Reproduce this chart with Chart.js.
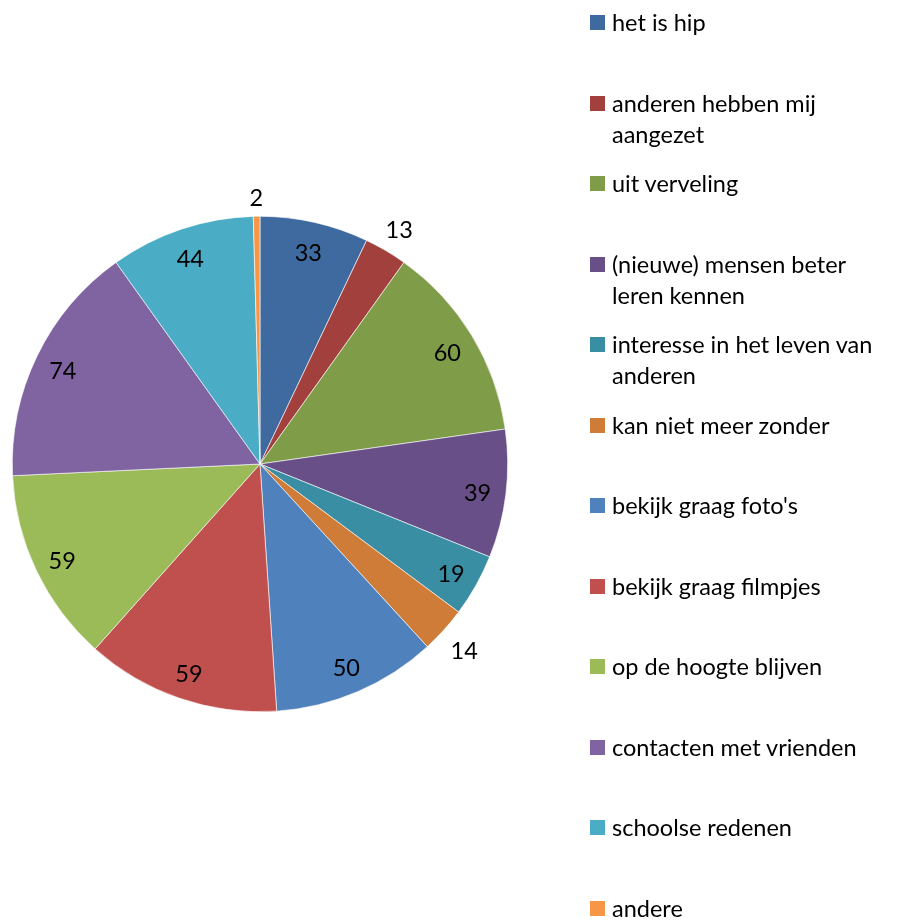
<!DOCTYPE html>
<html>
<head>
<meta charset="utf-8">
<script src="https://cdn.jsdelivr.net/npm/chart.js@4/dist/chart.umd.min.js"></script>
<style>
  html, body { margin: 0; padding: 0; background: #fff; }
  #wrap { position: relative; width: 906px; height: 922px; }
  #grafiek { position: absolute; left: 0; top: 0; }
  .leg { position: absolute; left: 590px; width: 310px; font-family: Lato, "Open Sans", sans-serif; font-size: 23.5px; line-height: 31px; color: #000; }
  .leg .sq { position: absolute; left: 0; top: 8px; width: 15px; height: 15px; }
  .leg .tx { margin-left: 22px; width: 282px; }
</style>
</head>
<body>
<div id="wrap">
  <canvas id="grafiek" width="906" height="922"></canvas>
</div>
<script>
// ===== DATA =====
const categorieen = [
  'het is hip',
  'anderen hebben mij aangezet',
  'uit verveling',
  '(nieuwe) mensen beter leren kennen',
  'interesse in het leven van anderen',
  'kan niet meer zonder',
  "bekijk graag foto's",
  'bekijk graag filmpjes',
  'op de hoogte blijven',
  'contacten met vrienden',
  'schoolse redenen',
  'andere'
];
const aantallen = [33, 13, 60, 39, 19, 14, 50, 59, 59, 74, 44, 2];
const kleuren = [
  '#3E6A9F', '#A2403E', '#7F9C48', '#694F87', '#3A8EA4', '#CF7C38',
  '#4F81BD', '#C0504D', '#9BBB59', '#8064A2', '#4BACC6', '#F79646'
];

// ===== LEGENDA (HTML) =====
const wrap = document.getElementById('wrap');
categorieen.forEach((c, i) => {
  const d = document.createElement('div');
  d.className = 'leg';
  d.style.top = (7 + i * 80.5) + 'px';
  d.innerHTML = `<div class="sq" style="background:${kleuren[i]}"></div><div class="tx">${c}</div>`;
  wrap.appendChild(d);
});

// ===== LABELS OP DE TAART =====
const labelPlugin = {
  id: 'taartLabels',
  afterDatasetsDraw(chart) {
    const ctx = chart.ctx;
    const meta = chart.getDatasetMeta(0);
    const totaal = aantallen.reduce((s, v) => s + v, 0);
    ctx.save();
    ctx.font = '23.5px Lato, "Open Sans", sans-serif';
    ctx.fillStyle = '#000';
    ctx.textAlign = 'center';
    ctx.textBaseline = 'middle';
    meta.data.forEach((arc, i) => {
      const p = arc.getProps(['x', 'y', 'startAngle', 'endAngle', 'outerRadius'], true);
      const hoek = (p.startAngle + p.endAngle) / 2;
      const tekst = String(aantallen[i]);
      const cx = Math.cos(hoek), cy = Math.sin(hoek);
      let afstand;
      if (aantallen[i] / totaal < 0.035) {
        // buiten de taart: label-box net naast de rand
        const w = ctx.measureText(tekst).width;
        afstand = p.outerRadius + 10 + Math.abs(cx) * w / 2 + Math.abs(cy) * 11;
      } else {
        afstand = p.outerRadius * 0.885;
      }
      ctx.fillText(tekst, p.x + cx * afstand, p.y + cy * afstand + 3);
    });
    ctx.restore();
  }
};

new Chart(document.getElementById('grafiek'), {
  type: 'pie',
  data: {
    labels: categorieen,
    datasets: [{
      data: aantallen,
      backgroundColor: kleuren,
      borderColor: '#ffffff',
      borderWidth: 0.6
    }]
  },
  options: {
    responsive: false,
    animation: false,
    layout: { padding: { left: 12, right: 398, top: 216, bottom: 210 } },
    plugins: {
      legend: { display: false },
      tooltip: { enabled: false },
      title: { display: false }
    }
  },
  plugins: [labelPlugin]
});
</script>
</body>
</html>
